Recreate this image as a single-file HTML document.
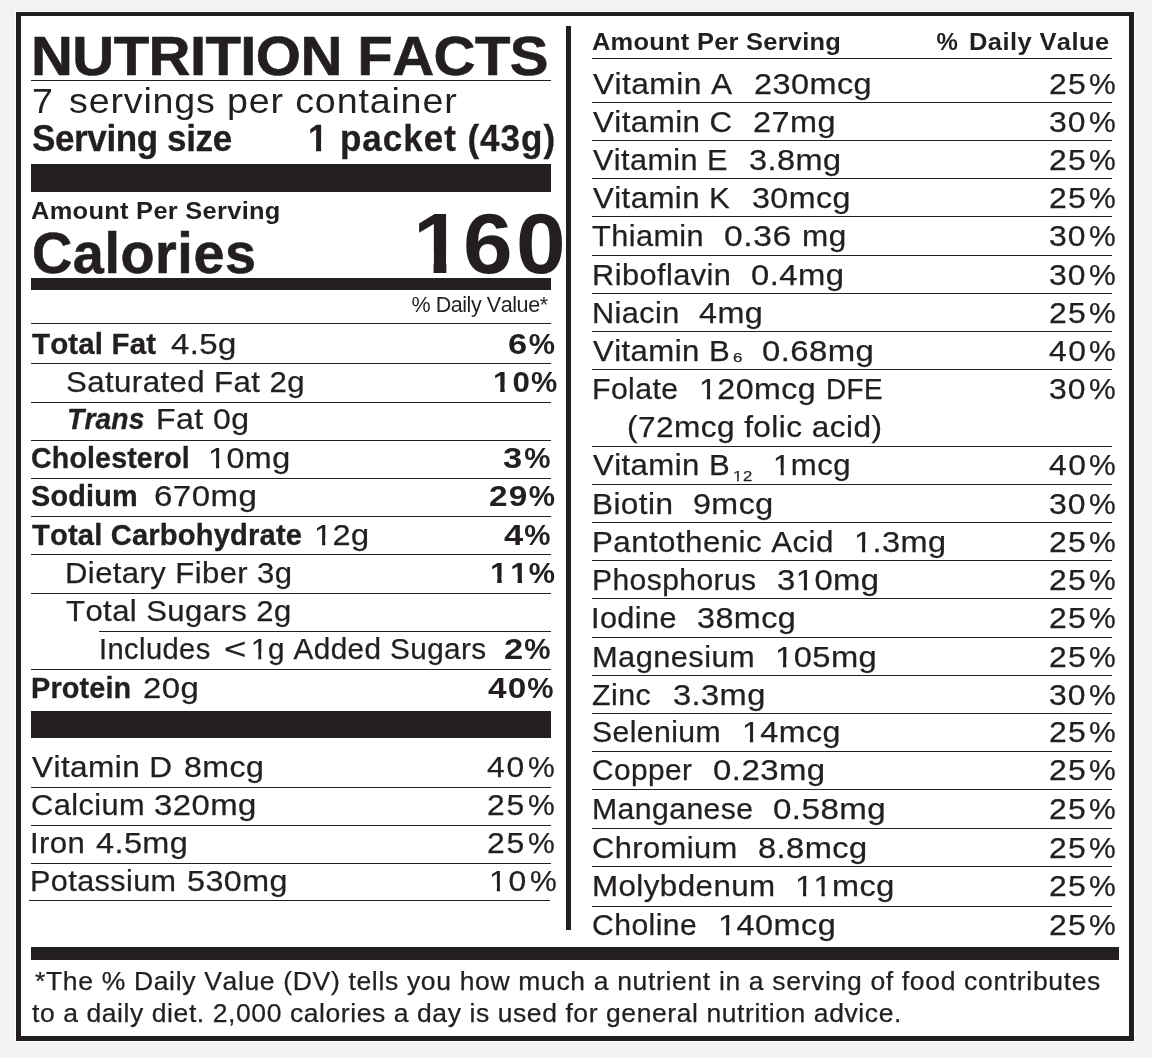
<!DOCTYPE html>
<html lang="en">
<head>
<meta charset="utf-8">
<title>Nutrition Facts</title>
<style>
html,body{margin:0;padding:0}
body{width:1152px;height:1058px;background:#f2f4f3;position:relative;overflow:hidden;
 font-family:"Liberation Sans",Arial,Helvetica,sans-serif;color:#231f20;font-kerning:none}
.label{position:absolute;left:16px;top:12px;width:1108px;height:1020px;border:5px solid #231f20;border-top-width:4px;background:#fff;box-shadow:0 0 0 1px #fff}
.b{position:absolute;background:#231f20}
.t{position:absolute;white-space:nowrap;line-height:1;font-weight:400}
.t>span{display:inline-block;white-space:pre;transform-origin:0 0}
.B{font-weight:700}
.I{font-style:italic}
.s{-webkit-text-stroke:.25px #231f20}
.s3{-webkit-text-stroke:.3px #231f20}
.s6{-webkit-text-stroke:.6px #231f20}
.o{display:inline-block;clip-path:polygon(0 0,100% 0,100% .6em,.346em .6em,.346em 100%,.245em 100%,.245em .6em,0 .6em)}
.B .o{clip-path:polygon(0 0,100% 0,100% .6em,.374em .6em,.374em 100%,.230em 100%,.230em .6em,0 .6em)}
</style>
</head>
<body>
<div class="label"></div>
<div class="b bar" style="left:31px;top:164px;width:520px;height:28px"></div>
<div class="b bar" style="left:31px;top:278px;width:520px;height:12px"></div>
<div class="b bar" style="left:31px;top:711px;width:520px;height:27px"></div>
<div class="b bar" style="left:31px;top:947px;width:1088px;height:13px"></div>
<div class="b div" style="left:566px;top:26px;width:5px;height:904px"></div>
<div class="b r" style="left:31px;top:80px;width:520px;height:1px"></div>
<div class="b r" style="left:31px;top:323px;width:520px;height:1px"></div>
<div class="b r" style="left:31px;top:363px;width:520px;height:1px"></div>
<div class="b r" style="left:31px;top:402px;width:520px;height:1px"></div>
<div class="b r" style="left:31px;top:440px;width:520px;height:1px"></div>
<div class="b r" style="left:31px;top:478px;width:520px;height:1px"></div>
<div class="b r" style="left:31px;top:516px;width:520px;height:1px"></div>
<div class="b r" style="left:31px;top:554px;width:520px;height:1px"></div>
<div class="b r" style="left:31px;top:593px;width:520px;height:1px"></div>
<div class="b r" style="left:99px;top:631px;width:452px;height:1px"></div>
<div class="b r" style="left:31px;top:669px;width:520px;height:1px"></div>
<div class="b r" style="left:31px;top:787px;width:520px;height:1px"></div>
<div class="b r" style="left:31px;top:825px;width:520px;height:1px"></div>
<div class="b r" style="left:31px;top:863px;width:520px;height:1px"></div>
<div class="b r" style="left:29px;top:900px;width:521px;height:1px"></div>
<div class="b r" style="left:592px;top:58px;width:520px;height:1px"></div>
<div class="b r" style="left:592px;top:102px;width:520px;height:1px"></div>
<div class="b r" style="left:592px;top:140px;width:520px;height:1px"></div>
<div class="b r" style="left:592px;top:178px;width:520px;height:1px"></div>
<div class="b r" style="left:592px;top:216px;width:520px;height:1px"></div>
<div class="b r" style="left:592px;top:255px;width:520px;height:1px"></div>
<div class="b r" style="left:592px;top:293px;width:520px;height:1px"></div>
<div class="b r" style="left:592px;top:331px;width:520px;height:1px"></div>
<div class="b r" style="left:592px;top:369px;width:520px;height:1px"></div>
<div class="b r" style="left:592px;top:446px;width:520px;height:1px"></div>
<div class="b r" style="left:592px;top:484px;width:520px;height:1px"></div>
<div class="b r" style="left:592px;top:522px;width:520px;height:1px"></div>
<div class="b r" style="left:592px;top:560px;width:520px;height:1px"></div>
<div class="b r" style="left:592px;top:598px;width:520px;height:1px"></div>
<div class="b r" style="left:592px;top:637px;width:520px;height:1px"></div>
<div class="b r" style="left:592px;top:675px;width:520px;height:1px"></div>
<div class="b r" style="left:592px;top:713px;width:520px;height:1px"></div>
<div class="b r" style="left:592px;top:751px;width:520px;height:1px"></div>
<div class="b r" style="left:592px;top:789px;width:520px;height:1px"></div>
<div class="b r" style="left:592px;top:828px;width:520px;height:1px"></div>
<div class="b r" style="left:592px;top:866px;width:520px;height:1px"></div>
<div class="b r" style="left:592px;top:906px;width:520px;height:1px"></div>
<div class="t title" style="left:31.41px;top:29px;font-size:54.8px"><span class="B s6" style="letter-spacing:-0.567px;transform:scaleX(1.06)">NUTRITION FACTS</span></div>
<div class="t" style="left:32.07px;top:84px;font-size:35.5px"><span style="transform:scaleX(1.06)">7 </span><span style="margin-left:7.28px;letter-spacing:0.784px;transform:scaleX(1.06)">servings per container</span></div>
<div class="t" style="left:31.74px;top:121px;font-size:36.5px"><span class="B s3" style="letter-spacing:-0.410px;transform:scaleX(0.96)">Serving size </span><span class="B s3" style="margin-left:58.05px;transform:scaleX(0.96)"><span class="o">1</span> </span><span class="B s3" style="margin-left:1.65px;letter-spacing:1.002px;transform:scaleX(0.96)">packet (43g)</span></div>
<div class="t" style="left:31.37px;top:199px;font-size:24px"><span class="B" style="letter-spacing:0.266px;transform:scaleX(1.06)">Amount Per Serving</span></div>
<div class="t" style="left:32.01px;top:225px;font-size:57.5px"><span class="B s6" style="letter-spacing:0.570px;transform:scaleX(0.97)">Calories</span></div>
<div class="t" style="left:412.65px;top:201px;font-size:85px"><span class="B" style="transform:scaleX(1.05)"><span class="o">1</span></span><span class="B" style="margin-left:3.21px;letter-spacing:3.291px;transform:scaleX(1.05)">60</span></div>
<div class="t" style="left:411.43px;top:295px;font-size:21.5px"><span style="letter-spacing:-0.431px">% Daily Value*</span></div>
<div class="t" style="left:31.97px;top:329px;font-size:29.5px"><span class="B s3" style="letter-spacing:0.147px">Total Fat </span><span class="s" style="margin-left:6.69px;letter-spacing:0.406px;transform:scaleX(1.115)">4.5g </span><span class="B" style="margin-left:269.35px;transform:scaleX(1.17)">6</span><span class="B" style="margin-left:4.12px">%</span></div>
<div class="t" style="left:65.88px;top:367px;font-size:29.5px"><span class="s" style="letter-spacing:0.400px;transform:scaleX(1.057)">Saturated Fat 2g </span><span class="B" style="margin-left:192.02px;letter-spacing:1.923px;transform:scaleX(1.06)"><span class="o">1</span>0</span><span class="B" style="margin-left:1.64px">%</span></div>
<div class="t" style="left:66.75px;top:404px;font-size:29.5px"><span class="B I s3" style="letter-spacing:0.153px;transform:scaleX(0.957)">Trans </span><span class="s" style="margin-left:-0.07px;letter-spacing:0.405px;transform:scaleX(1.085)">Fat 0g</span></div>
<div class="t" style="left:31.33px;top:443px;font-size:29.5px"><span class="B s3" style="letter-spacing:0.149px;transform:scaleX(0.969)">Cholesterol </span><span class="s" style="margin-left:4.29px;letter-spacing:0.400px;transform:scaleX(1.096)"><span class="o">1</span>0mg </span><span class="B" style="margin-left:210.83px;transform:scaleX(1.17)">3</span><span class="B" style="margin-left:5.05px">%</span></div>
<div class="t" style="left:31.17px;top:481px;font-size:29.5px"><span class="B s3" style="letter-spacing:0.150px;transform:scaleX(0.979)">Sodium </span><span class="s" style="margin-left:5.75px;letter-spacing:0.398px;transform:scaleX(1.12)">670mg </span><span class="B" style="margin-left:233.74px;letter-spacing:1.074px;transform:scaleX(1.13)">29</span><span class="B" style="margin-left:4.86px">%</span></div>
<div class="t" style="left:32.17px;top:520px;font-size:29.5px"><span class="B s3" style="letter-spacing:0.154px;transform:scaleX(0.989)">Total Carbohydrate </span><span class="s" style="margin-left:0.61px;letter-spacing:0.405px;transform:scaleX(1.104)"><span class="o">1</span>2g </span><span class="B" style="margin-left:131.08px;transform:scaleX(1.17)">4</span><span class="B" style="margin-left:3.28px">%</span></div>
<div class="t" style="left:64.95px;top:558px;font-size:29.5px"><span class="s" style="letter-spacing:0.398px;transform:scaleX(1.052)">Dietary Fiber 3g </span><span class="B" style="margin-left:200.09px;letter-spacing:2.790px;transform:scaleX(1.06)"><span class="o">1</span><span class="o">1</span></span><span class="B" style="margin-left:0.41px">%</span></div>
<div class="t" style="left:66.30px;top:596px;font-size:29.5px"><span class="s" style="letter-spacing:0.401px;transform:scaleX(1.053)">Total Sugars 2g</span></div>
<div class="t" style="left:99.31px;top:634px;font-size:29.5px"><span class="s" style="letter-spacing:0.404px;transform:scaleX(0.987)">Includes </span><span class="s" style="margin-left:3.09px;transform:scaleX(1.3)">&lt;</span><span class="s" style="margin-left:9.56px;letter-spacing:0.398px;transform:scaleX(1.007)"><span class="o">1</span>g Added Sugars </span><span class="B" style="margin-left:10.87px;transform:scaleX(1.17)">2</span><span class="B" style="margin-left:3.46px">%</span></div>
<div class="t" style="left:30.57px;top:673px;font-size:29.5px"><span class="B s3" style="letter-spacing:0.142px;transform:scaleX(0.978)">Protein </span><span class="s" style="margin-left:1.82px;letter-spacing:0.401px;transform:scaleX(1.115)">20g </span><span class="B" style="margin-left:285.13px;letter-spacing:1.056px;transform:scaleX(1.13)">40</span><span class="B" style="margin-left:4.75px">%</span></div>
<div class="t" style="left:32.36px;top:752px;font-size:29.5px"><span class="s" style="letter-spacing:0.404px;transform:scaleX(1.069)">Vitamin D </span><span class="s" style="margin-left:11.63px;letter-spacing:0.410px;transform:scaleX(1.09)">8mcg </span><span class="s" style="margin-left:220.78px;letter-spacing:1.702px;transform:scaleX(1.08)">40</span><span class="s" style="margin-left:4.34px;transform:scaleX(1.02)">%</span></div>
<div class="t" style="left:30.94px;top:790px;font-size:29.5px"><span class="s" style="letter-spacing:0.393px;transform:scaleX(1.043)">Calcium </span><span class="s" style="margin-left:5.42px;letter-spacing:0.404px;transform:scaleX(1.115)">320mg </span><span class="s" style="margin-left:232.33px;letter-spacing:1.669px;transform:scaleX(1.08)">25</span><span class="s" style="margin-left:4.28px;transform:scaleX(1.02)">%</span></div>
<div class="t" style="left:30.13px;top:828px;font-size:29.5px"><span class="s" style="letter-spacing:0.400px;transform:scaleX(1.055)">Iron </span><span class="s" style="margin-left:5.10px;letter-spacing:0.393px;transform:scaleX(1.099)">4.5mg </span><span class="s" style="margin-left:298.60px;letter-spacing:1.669px;transform:scaleX(1.08)">25</span><span class="s" style="margin-left:4.28px;transform:scaleX(1.02)">%</span></div>
<div class="t" style="left:29.99px;top:866px;font-size:29.5px"><span class="s" style="letter-spacing:0.404px;transform:scaleX(1.036)">Potassium </span><span class="s" style="margin-left:6.77px;letter-spacing:0.407px;transform:scaleX(1.093)">530mg </span><span class="s" style="margin-left:201.89px;letter-spacing:1.547px;transform:scaleX(1.08)"><span class="o">1</span>0</span><span class="s" style="margin-left:4.48px;transform:scaleX(1.02)">%</span></div>
<div class="t" style="left:592.37px;top:30px;font-size:24px"><span class="B" style="letter-spacing:0.238px;transform:scaleX(1.06)">Amount Per Serving </span><span class="B" style="margin-left:102.14px">% </span><span class="B" style="margin-left:4.89px;letter-spacing:0.408px;transform:scaleX(1.06)">Daily Value</span></div>
<div class="t" style="left:592.96px;top:69px;font-size:29.5px"><span class="s" style="letter-spacing:0.395px;transform:scaleX(1.075)">Vitamin A </span><span class="s" style="margin-left:22.33px;letter-spacing:0.396px;transform:scaleX(1.1)">230mcg </span><span class="s" style="margin-left:179.21px;letter-spacing:1.298px;transform:scaleX(1.08)">25</span><span class="s" style="margin-left:4.62px;transform:scaleX(1.02)">%</span></div>
<div class="t" style="left:592.96px;top:107px;font-size:29.5px"><span class="s" style="letter-spacing:0.404px;transform:scaleX(1.062)">Vitamin C </span><span class="s" style="margin-left:19.50px;letter-spacing:0.409px;transform:scaleX(1.1)">27mg </span><span class="s" style="margin-left:212.58px;letter-spacing:0.852px;transform:scaleX(1.08)">30</span><span class="s" style="margin-left:5.12px;transform:scaleX(1.02)">%</span></div>
<div class="t" style="left:592.97px;top:145px;font-size:29.5px"><span class="s" style="letter-spacing:0.399px;transform:scaleX(1.038)">Vitamin E </span><span class="s" style="margin-left:17.37px;letter-spacing:0.400px;transform:scaleX(1.101)">3.8mg </span><span class="s" style="margin-left:207.45px;letter-spacing:1.298px;transform:scaleX(1.08)">25</span><span class="s" style="margin-left:4.62px;transform:scaleX(1.02)">%</span></div>
<div class="t" style="left:592.96px;top:183px;font-size:29.5px"><span class="s" style="letter-spacing:0.393px;transform:scaleX(1.058)">Vitamin K </span><span class="s" style="margin-left:20.24px;letter-spacing:0.395px;transform:scaleX(1.093)">30mcg </span><span class="s" style="margin-left:198.11px;letter-spacing:1.298px;transform:scaleX(1.08)">25</span><span class="s" style="margin-left:4.62px;transform:scaleX(1.02)">%</span></div>
<div class="t" style="left:592.31px;top:221px;font-size:29.5px"><span class="s" style="letter-spacing:0.394px;transform:scaleX(1.041)">Thiamin </span><span class="s" style="margin-left:15.11px;letter-spacing:0.537px;transform:scaleX(1.14)">0.36 </span><span class="s" style="margin-left:9.93px;letter-spacing:0.404px;transform:scaleX(1.066)">mg </span><span class="s" style="margin-left:196.89px;letter-spacing:0.852px;transform:scaleX(1.08)">30</span><span class="s" style="margin-left:5.12px;transform:scaleX(1.02)">%</span></div>
<div class="t" style="left:591.68px;top:260px;font-size:29.5px"><span class="s" style="letter-spacing:0.396px;transform:scaleX(1.043)">Riboflavin </span><span class="s" style="margin-left:16.96px;letter-spacing:0.406px;transform:scaleX(1.111)">0.4mg </span><span class="s" style="margin-left:205.85px;letter-spacing:0.852px;transform:scaleX(1.08)">30</span><span class="s" style="margin-left:5.12px;transform:scaleX(1.02)">%</span></div>
<div class="t" style="left:591.68px;top:298px;font-size:29.5px"><span class="s" style="letter-spacing:0.395px;transform:scaleX(1.04)">Niacin </span><span class="s" style="margin-left:14.64px;letter-spacing:0.399px;transform:scaleX(1.097)">4mg </span><span class="s" style="margin-left:282.36px;letter-spacing:1.298px;transform:scaleX(1.08)">25</span><span class="s" style="margin-left:4.62px;transform:scaleX(1.02)">%</span></div>
<div class="t" style="left:592.96px;top:336px;font-size:29.5px"><span class="s" style="letter-spacing:0.399px;transform:scaleX(1.056)">Vitamin B</span><span class="s" style="margin-left:10.35px;font-size:13px;transform:scaleX(1.3);position:relative;top:1px">6 </span><span class="s" style="margin-left:17.73px;letter-spacing:0.393px;transform:scaleX(1.115)">0.68mg </span><span class="s" style="margin-left:177.61px;letter-spacing:1.331px;transform:scaleX(1.08)">40</span><span class="s" style="margin-left:4.68px;transform:scaleX(1.02)">%</span></div>
<div class="t" style="left:591.72px;top:374px;font-size:29.5px"><span class="s" style="letter-spacing:0.407px;transform:scaleX(1.025)">Folate </span><span class="s" style="margin-left:14.15px;letter-spacing:0.398px;transform:scaleX(1.091)"><span class="o">1</span>20mcg </span><span class="s" style="margin-left:10.88px;letter-spacing:0.386px;transform:scaleX(0.945)">DFE </span><span class="s" style="margin-left:154.73px;letter-spacing:0.852px;transform:scaleX(1.08)">30</span><span class="s" style="margin-left:5.12px;transform:scaleX(1.02)">%</span></div>
<div class="t" style="left:627.04px;top:412px;font-size:29.5px"><span class="s" style="letter-spacing:0.403px;transform:scaleX(1.071)">(72mcg folic acid)</span></div>
<div class="t" style="left:592.96px;top:450px;font-size:29.5px"><span class="s" style="letter-spacing:0.399px;transform:scaleX(1.056)">Vitamin B</span><span class="s" style="margin-left:10.70px;font-size:14.5px;letter-spacing:0.604px;transform:scaleX(1.15);position:relative;top:6px"><span class="o">1</span>2 </span><span class="s" style="margin-left:17.53px;letter-spacing:0.398px;transform:scaleX(1.057)"><span class="o">1</span>mcg </span><span class="s" style="margin-left:193.35px;letter-spacing:1.331px;transform:scaleX(1.08)">40</span><span class="s" style="margin-left:4.68px;transform:scaleX(1.02)">%</span></div>
<div class="t" style="left:591.62px;top:489px;font-size:29.5px"><span class="s" style="letter-spacing:0.397px;transform:scaleX(1.068)">Biotin </span><span class="s" style="margin-left:16.11px;letter-spacing:0.401px;transform:scaleX(1.092)">9mcg </span><span class="s" style="margin-left:274.36px;letter-spacing:0.852px;transform:scaleX(1.08)">30</span><span class="s" style="margin-left:5.12px;transform:scaleX(1.02)">%</span></div>
<div class="t" style="left:591.63px;top:527px;font-size:29.5px"><span class="s" style="letter-spacing:0.394px;transform:scaleX(1.062)">Pantothenic Acid </span><span class="s" style="margin-left:25.97px;letter-spacing:0.397px;transform:scaleX(1.101)"><span class="o">1</span>.3mg </span><span class="s" style="margin-left:102.36px;letter-spacing:1.298px;transform:scaleX(1.08)">25</span><span class="s" style="margin-left:4.62px;transform:scaleX(1.02)">%</span></div>
<div class="t" style="left:591.73px;top:565px;font-size:29.5px"><span class="s" style="letter-spacing:0.400px;transform:scaleX(1.019)">Phosphorus </span><span class="s" style="margin-left:14.98px;letter-spacing:0.396px;transform:scaleX(1.112)">3<span class="o">1</span>0mg </span><span class="s" style="margin-left:171.28px;letter-spacing:1.298px;transform:scaleX(1.08)">25</span><span class="s" style="margin-left:4.62px;transform:scaleX(1.02)">%</span></div>
<div class="t" style="left:591.37px;top:603px;font-size:29.5px"><span class="s" style="letter-spacing:0.396px;transform:scaleX(1.038)">Iodine </span><span class="s" style="margin-left:14.55px;letter-spacing:0.404px;transform:scaleX(1.096)">38mcg </span><span class="s" style="margin-left:252.36px;letter-spacing:1.298px;transform:scaleX(1.08)">25</span><span class="s" style="margin-left:4.62px;transform:scaleX(1.02)">%</span></div>
<div class="t" style="left:591.67px;top:642px;font-size:29.5px"><span class="s" style="letter-spacing:0.409px;transform:scaleX(1.044)">Magnesium </span><span class="s" style="margin-left:18.42px;letter-spacing:0.408px;transform:scaleX(1.108)"><span class="o">1</span>05mg </span><span class="s" style="margin-left:173.10px;letter-spacing:1.298px;transform:scaleX(1.08)">25</span><span class="s" style="margin-left:4.62px;transform:scaleX(1.02)">%</span></div>
<div class="t" style="left:592.23px;top:680px;font-size:29.5px"><span class="s" style="letter-spacing:0.404px;transform:scaleX(1.033)">Zinc </span><span class="s" style="margin-left:14.58px;letter-spacing:0.395px;transform:scaleX(1.105)">3.3mg </span><span class="s" style="margin-left:283.87px;letter-spacing:0.852px;transform:scaleX(1.08)">30</span><span class="s" style="margin-left:5.12px;transform:scaleX(1.02)">%</span></div>
<div class="t" style="left:592.33px;top:717px;font-size:29.5px"><span class="s" style="letter-spacing:0.398px;transform:scaleX(1.023)">Selenium </span><span class="s" style="margin-left:14.56px;letter-spacing:0.397px;transform:scaleX(1.092)"><span class="o">1</span>4mcg </span><span class="s" style="margin-left:208.02px;letter-spacing:1.298px;transform:scaleX(1.08)">25</span><span class="s" style="margin-left:4.62px;transform:scaleX(1.02)">%</span></div>
<div class="t" style="left:592.08px;top:755px;font-size:29.5px"><span class="s" style="letter-spacing:0.395px;transform:scaleX(1.012)">Copper </span><span class="s" style="margin-left:13.67px;letter-spacing:0.403px;transform:scaleX(1.117)">0.23mg </span><span class="s" style="margin-left:225.92px;letter-spacing:1.298px;transform:scaleX(1.08)">25</span><span class="s" style="margin-left:4.62px;transform:scaleX(1.02)">%</span></div>
<div class="t" style="left:591.72px;top:794px;font-size:29.5px"><span class="s" style="letter-spacing:0.397px;transform:scaleX(1.024)">Manganese </span><span class="s" style="margin-left:14.65px;letter-spacing:0.397px;transform:scaleX(1.123)">0.58mg </span><span class="s" style="margin-left:166.72px;letter-spacing:1.298px;transform:scaleX(1.08)">25</span><span class="s" style="margin-left:4.62px;transform:scaleX(1.02)">%</span></div>
<div class="t" style="left:592.03px;top:833px;font-size:29.5px"><span class="s" style="letter-spacing:0.402px;transform:scaleX(1.046)">Chromium </span><span class="s" style="margin-left:17.94px;letter-spacing:0.394px;transform:scaleX(1.106)">8.8mcg </span><span class="s" style="margin-left:183.27px;letter-spacing:1.298px;transform:scaleX(1.08)">25</span><span class="s" style="margin-left:4.62px;transform:scaleX(1.02)">%</span></div>
<div class="t" style="left:591.63px;top:871px;font-size:29.5px"><span class="s" style="letter-spacing:0.400px;transform:scaleX(1.062)">Molybdenum </span><span class="s" style="margin-left:21.76px;letter-spacing:0.393px;transform:scaleX(1.101)"><span class="o">1</span><span class="o">1</span>mcg </span><span class="s" style="margin-left:154.82px;letter-spacing:1.298px;transform:scaleX(1.08)">25</span><span class="s" style="margin-left:4.62px;transform:scaleX(1.02)">%</span></div>
<div class="t" style="left:592.07px;top:910px;font-size:29.5px"><span class="s" style="letter-spacing:0.397px;transform:scaleX(1.023)">Choline </span><span class="s" style="margin-left:14.40px;letter-spacing:0.394px;transform:scaleX(1.101)"><span class="o">1</span>40mcg </span><span class="s" style="margin-left:215.02px;letter-spacing:1.298px;transform:scaleX(1.08)">25</span><span class="s" style="margin-left:4.62px;transform:scaleX(1.02)">%</span></div>
<div class="t fn" style="left:34.57px;top:969px;font-size:25px"><span class="s" style="letter-spacing:0.626px;transform:scaleX(1.06)">*The % Daily Value (DV) tells you how much a nutrient in a serving of food contributes</span></div>
<div class="t fn" style="left:31.60px;top:1001px;font-size:25px"><span class="s" style="letter-spacing:0.547px;transform:scaleX(1.06)">to a daily diet. 2,000 calories a day is used for general nutrition advice.</span></div>
</body>
</html>
